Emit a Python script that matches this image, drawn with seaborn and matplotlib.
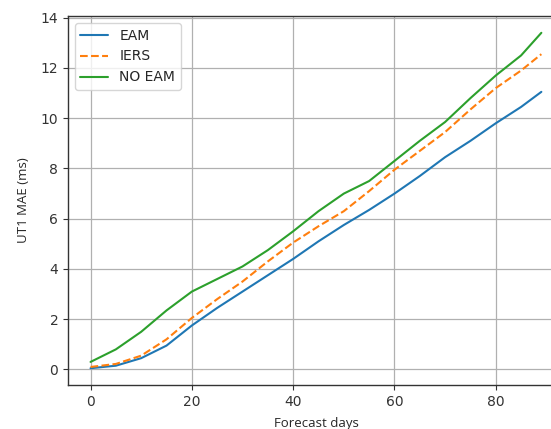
import seaborn as sns
import pandas as pd
import matplotlib.pyplot as plt

# Forecast days and MAE values
days = [0, 5, 10, 15, 20, 25, 30, 35, 40, 45, 50, 55, 60, 65, 70, 75, 80, 85, 89]
eam = [0.05, 0.15, 0.45, 0.95, 1.75, 2.45, 3.1, 3.75, 4.4, 5.1, 5.75, 6.35,
       7.0, 7.7, 8.45, 9.1, 9.8, 10.45, 11.05]
iers = [0.1, 0.22, 0.55, 1.2, 2.05, 2.8, 3.5, 4.3, 5.05, 5.7, 6.3, 7.1,
        7.95, 8.7, 9.45, 10.35, 11.2, 11.9, 12.55]
no_eam = [0.3, 0.8, 1.5, 2.35, 3.1, 3.6, 4.1, 4.75, 5.5, 6.3, 7.0, 7.5,
          8.3, 9.1, 9.85, 10.8, 11.7, 12.5, 13.4]
series_names = ['EAM', 'IERS', 'NO EAM']

df = pd.DataFrame({
    'day': days * 3,
    'mae': eam + iers + no_eam,
    'series': [n for n in series_names for _ in days],
})

sns.set_style('ticks')
plt.rcParams['font.family'] = ['DejaVu Sans']

fig = plt.figure(figsize=(5.51, 4.29), dpi=100)
# the original is cropped on the right, so the axes run past the figure edge
ax = fig.add_axes([0.1234, 0.1026, 0.9, 0.86])

sns.lineplot(data=df, x='day', y='mae', hue='series', style='series',
             palette={'EAM': '#1f77b4', 'IERS': '#ff7f0e', 'NO EAM': '#2ca02c'},
             dashes={'EAM': '', 'IERS': (3.7, 1.6), 'NO EAM': ''},
             linewidth=1.5, ax=ax)

ax.grid(True, color='#b0b0b0', linewidth=0.9)
ax.set_yticks(range(0, 15, 2))
ax.set_xticks(range(0, 90, 20))
for s in ax.spines.values():
    s.set_color('#333333')
    s.set_linewidth(1.0)
ax.tick_params(colors='#333333', labelsize=10, length=3.5)

ax.set_xlabel('Forecast days', family='Open Sans', fontsize=9.5, labelpad=6)
ax.set_ylabel('UT1 MAE (ms)', family='Open Sans', fontsize=9.5, labelpad=8)

leg = ax.legend(loc='upper left', fontsize=10, frameon=True, fancybox=True)
leg.get_frame().set_edgecolor('#cccccc')

fig.savefig('out.png', dpi=100)
